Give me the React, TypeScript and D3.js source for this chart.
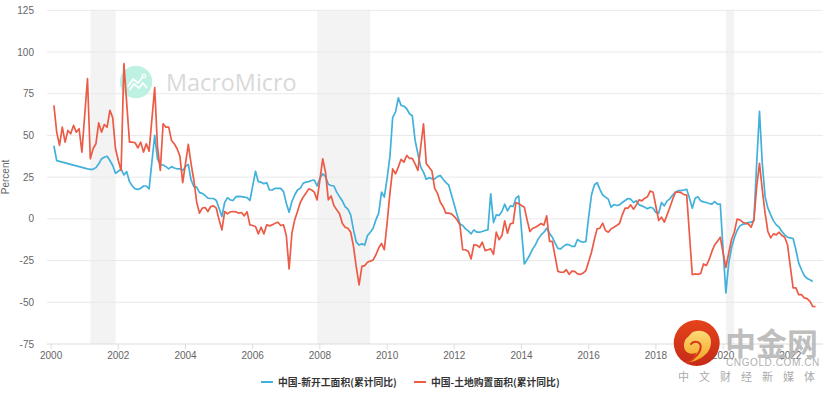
import React from "react";
import * as d3 from "d3";

const W = 831, H = 394;
const legendLabels = ["中国-新开工面积(累计同比)", "中国-土地购置面积(累计同比)"];
const yTicks = [125, 100, 75, 50, 25, 0, -25, -50, -75];
const xTicks = [2000, 2002, 2004, 2006, 2008, 2010, 2012, 2014, 2016, 2018, 2020, 2022];
const recessions: [number, number][] = [[2001.17, 2001.92], [2007.92, 2009.5], [2020.08, 2020.33]];

// monthly, one row per year, January first
const startsValues: (number | null)[] = [
  null, 43.8, 34.9, null, null, null, null, null, null, null, null, null,
  null, 30, 29.7, 29.7, 30.7, 33, 36, 36.9, 37.5, 35, 32, 27.3,
  28.5, 30, 26.3, 28.3, 22.3, 19.7, 18, 17.7, 18.3, 19.7, 19.7, 18,
  null, 50, 36, 32.5, 32.3, 31.3, 30, 31.3, 30.5, 30, 30, 29,
  31.3, 32.7, 23.3, 19.3, 19, 15.7, 15.3, 14, 12.4, 12.2, 12.2, 11,
  6.4, 1.4, 9.8, 12.7, 11.4, 11, 13.3, 13.5, 13.3, 13, 12.7, 11,
  null, 28.5, 22.3, 22, 21, 21.7, 17.3, 17.3, 18.3, 18.3, 18.3, 16.3,
  9.4, 4, 10.4, 14.3, 17.3, 18.3, 21.3, 22, 22.3, 23, 23.3, 19.7,
  24.3, 27, 25.3, 20.7, 20, 19.7, 16, 13.3, 10.8, 7.4, 5.8, 2.4,
  -6.6, -14, -15.7, -15, -15.7, -10, -8, -5.6, -0.6, 3.4, 16, 13,
  24.3, 37.3, 60.8, 64, 72.5, 68, 67.5, 66, 63, 61.8, 47, 39,
  31, 28, 23.7, 24.7, 24, 24, 25.3, 26, 23.7, 21.7, 20.3, 14.3,
  8.4, 2.4, -3, -4, -6, -7.2, -9, -6.6, -8, -8, -7.6, -7,
  -6.6, 15, -2.2, 2.4, 2, 4.4, 8.8, 4.8, 7.8, 7.4, 12.4, 13.7,
  null, -27, -24.5, -21.5, -18, -15.5, -12, -9.6, -8, -5.6, -8.6, -11,
  -14.5, -17.7, -18, -16.5, -15.3, -15.5, -16.5, -16.5, -12.4, -13.5, -14, -13.5,
  1.4, 14.3, 20.3, 21.7, 17.7, 14.3, 13, 11.8, 7, 8.6, 8, 8.4,
  9.8, 11, 12.2, 11.8, 9.8, 10.8, 8.4, 7.8, 7, 6, 7, 6.4,
  3.8, 3.4, 9.8, 7.8, 10.8, 12, 14.3, 16.1, 16.9, 16.9, 17.3, 17.7,
  12.4, 6.4, 12.4, 13.3, 10.8, 10.2, 9.8, 9.2, 8.8, 10.4, 8.8, 8.8,
  -18.5, -44.4, -26.5, -17.5, -11.5, -7, -4.2, -3.2, -3, -2.2, -2, -1,
  33.3, 64.5, 33, 13.3, 6.4, 2.4, -1.2, -3.6, -5, -7.6, -9.6, -11,
  -11.4, -11.8, -18.5, -26.5, -30.5, -34, -35.7, -36.5, -37.5, null, null, null,
];

const landValues: (number | null)[] = [
  null, 68, 52, 44, 55, 46, 53, 51, 56, 52, 54, 40,
  null, 84, 36, 42, 45, 57.5, 52, 56.5, 55, 65, 60.7, 42,
  35, 29, 93, null, 46, 46, 45.6, 42.6, 46, 40, 45, 40.6,
  null, 78.7, 43, 29, 57, 55, 55, 47, 45, 42, 37.6, 21.7,
  null, 44.6, 33, 23, 10, 3.4, 6.4, 6.8, 4.4, 7.4, 7.8, 6.4,
  -0.6, -6.6, 4.4, 3, 4.2, 4.4, 4.2, 3.4, 3.8, 1.8, 4.2, -3.6,
  -4, -4.6, -9, -5, -9, -3.6, -4.2, -3.6, -2.6, -2, -4, -3.6,
  -10, -30, -8.6, -0.6, 4.4, 9.8, 13, 15.3, 18, 17.3, 16, 11.4,
  23.3, 36, 28, 11.4, 13.7, 8, 5.4, 3, -2.6, -5, -5.6, -8,
  -16.5, -29, -39.6, -28.5, -28, -26, -25.3, -24.7, -21.5, -17.5, -14.7, -18.5,
  -2.6, 15.3, 30, 27, 31, 35.7, 34, 38, 36.3, 36.3, 33, 29,
  43, 57, 33, 31, 28.7, 18.3, 15.3, 10, 7.4, 3.4, 3.4, 3,
  1.4, -0.6, -3.6, -18.5, -18.5, -19.5, -24, -15.5, -15.7, -17, -14, -19,
  -18.5, -18, -21.3, -8, -12.5, -10, -1.2, -8.6, -3, -2.6, 9.8, 9,
  8, 7, -0.6, -7.6, -5.6, -5, -4, -2.8, -3.8, 1.8, -13.5, -13.5,
  -22.5, -31.5, -32, -32, -30.5, -33.3, -31.3, -31.5, -33, -33.3, -32.5, -31,
  -25.5, -20, -12.5, -6, -5.6, -2.6, -7, -8, -6, -5, -4, -2.8,
  2.4, 6.4, 6.4, 8.4, 5.8, 8.4, 11.4, 10.8, 12.4, 13.3, 16.7, 16,
  7.4, -1, 1, -2, 2.4, 7, 11.8, 16, 16, 15.7, 14.5, 14.3,
  null, -33.5, -33, -33.3, -32.7, -27, -28, -24.5, -19.5, -15.5, -13.5, -11,
  -20.5, -29, -20.5, -12.5, -8, -0.2, -0.6, -2, -2.6, -3, -5, -0.6,
  19.3, 33.3, 17.3, 3.4, -7.6, -11.4, -9, -9.6, -8, -10, -11, -15.5,
  -28.5, -41.4, -41.4, -45.4, -45.4, -47.4, -47.8, -49.4, -52.4, -52.6, null, null,
];

const BLUE = "#41b1db";
const RED = "#ec5b46";
const SANS = "'Liberation Sans', Arial, sans-serif";
const CJK = "'Noto Sans CJK SC', sans-serif";

const x = d3.scaleLinear().domain([2000, 2022]).range([51.1, 790.3]);
const y = d3.scaleLinear().domain([-75, 125]).range([344, 10.3]);

function toPath(values: (number | null)[]) {
  const pts = values
    .map((v, i) => ({ t: 2000 + i / 12, v }))
    .filter((p) => p.v !== null) as { t: number; v: number }[];
  return d3.line<{ t: number; v: number }>().x((p) => x(p.t)).y((p) => y(p.v))(pts) ?? "";
}

export default function App() {
  return (
    <svg width={W} height={H} viewBox={`0 0 ${W} ${H}`}
      style={{ position: "absolute", left: 0, top: 0, background: "#fff" }}>
      <defs>
        <linearGradient id="disc" x1="0" y1="0" x2="0" y2="1">
          <stop offset="0" stopColor="#e4431a" />
          <stop offset="1" stopColor="#c62a18" />
        </linearGradient>
        <linearGradient id="swirl" x1="0" y1="0" x2="0" y2="1">
          <stop offset="0" stopColor="#fdda78" />
          <stop offset="1" stopColor="#f5a21f" />
        </linearGradient>
      </defs>
      {recessions.map(([a, b]) => (
        <rect key={a} x={x(a)} y={10.3} width={x(b) - x(a)} height={333.7} fill="#f3f3f3" />
      ))}
      {yTicks.map((t) => (
        <g key={t}>
          <line x1={47} x2={823} y1={y(t)} y2={y(t)} stroke={t === -75 ? "#dcdcdc" : "#e9e9e9"} strokeWidth={1} />
          <text x={34} y={y(t) + 3.5} textAnchor="end" fontFamily={SANS} fontSize={10} fill="#666">{t}</text>
        </g>
      ))}
      {xTicks.map((t) => (
        <g key={t}>
          <line x1={x(t)} x2={x(t)} y1={344} y2={349} stroke="#dcdcdc" />
          <text x={x(t)} y={359} textAnchor="middle" fontFamily={SANS} fontSize={10} fill="#666">{t}</text>
        </g>
      ))}
      <text transform="translate(9,177) rotate(-90)" textAnchor="middle" fontFamily={SANS} fontSize={10} fill="#666">Percent</text>

      {/* MacroMicro watermark */}
      <circle cx={136} cy={82} r={16.2} fill="#bdf1e2" />
      <path d="M127.5 87 L133 79 L138 83 L143 76.5 M129.5 90 L134 84 L139 88 L143 83 L147 88" fill="none" stroke="#fff" strokeWidth={1.7} />
      <circle cx={144} cy={76} r={1.7} fill="none" stroke="#fff" strokeWidth={1.2} />
      <text x={166} y={90.5} fontFamily="'Open Sans', sans-serif" fontSize={23.4} fill="#d9d9d9">MacroMicro</text>

      <path d={toPath(startsValues)} fill="none" stroke={BLUE} strokeWidth={1.7} strokeLinejoin="round" />
      <path d={toPath(landValues)} fill="none" stroke={RED} strokeWidth={1.7} strokeLinejoin="round" />

      {/* legend */}
      <line x1={261} x2={273} y1={382} y2={382} stroke={BLUE} strokeWidth={2} />
      <text x={278} y={386} fontFamily={CJK} fontSize={9.8} fontWeight={700} fill="#333">{legendLabels[0]}</text>
      <line x1={414} x2={426} y1={382} y2={382} stroke={RED} strokeWidth={2} />
      <text x={431} y={386} fontFamily={CJK} fontSize={9.8} fontWeight={700} fill="#333">{legendLabels[1]}</text>

      {/* CNGOLD watermark */}
      <circle cx={696.7} cy={343} r={23} fill="url(#disc)" />
      <path d="M685 363 C 697 362, 711 355, 711 342 C 711 334, 704 330, 697 331 C 692 331, 690 335, 688 337 C 684 339, 683 346, 685 350 C 688 355, 695 354, 697 352 C 694 358, 690 361, 685 363 Z"
        fill="url(#swirl)" />
      <path d="M691 344 C 694 341, 699 341, 700.5 345 C 702 351, 695 359, 687 362.5"
        fill="none" stroke="#d8361a" strokeWidth={2} strokeLinecap="round" />
      <text x={725} y={355} fontFamily={CJK} fontSize={31} fontWeight={700} fill="#b5b5b5" fillOpacity={0.9}>中金网</text>
      <text x={726} y={366} fontFamily={SANS} fontSize={10} letterSpacing={0.6} fill="#b0b0b0">CNGOLD.COM.CN</text>
      <text x={678} y={380.5} fontFamily={CJK} fontSize={11} letterSpacing={10} fill="#aaa">中文财经新媒体</text>
    </svg>
  );
}
